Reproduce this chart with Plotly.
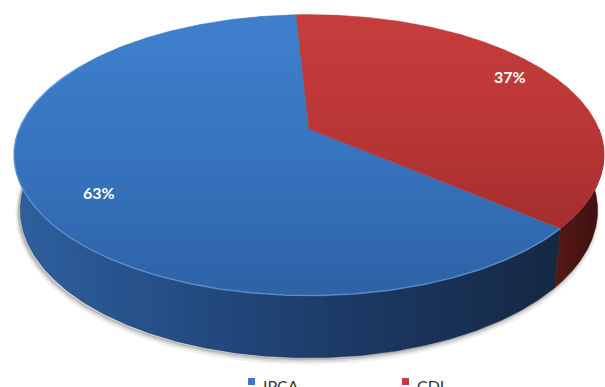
import numpy as np
import plotly.graph_objects as go

# ---------------- data ----------------
labels = ["IPCA", "CDI"]
values = [63, 37]
pct_labels = ["63%", "37%"]

# ---------------- style / geometry ----------------
W, H_PX = 605, 387
PHI = np.radians(27.9)          # elevation of the viewer
C, S = np.cos(PHI), np.sin(PHI)
DIST = 5.386 * C                # perspective distance (radius = 1)
THICK = 0.217                   # pie thickness (radius units)
CX, CY = 309.0, 129.0           # projected centre of the top face (px)
HALF_W = 295.0                  # projected half width (px)
START_DEG = 93.0                # angle where the first slice starts (ccw)

_t = np.linspace(0, 2 * np.pi, 4000)
F = HALF_W / np.max(np.cos(_t) / (DIST + C * np.sin(_t)))


def proj(theta, z):
    x, y = np.cos(theta), np.sin(theta)
    d = DIST + y * C - z * S
    sx = F * x / d
    sy = F * (y * S + z * C) / d
    return CX + sx, CY - sy


# colorscales: 0 = bottom of screen, 1 = top of screen
top_scales = [
    [[0, "#2D62A6"], [0.45, "#3672BC"], [1, "#3F80CE"]],
    [[0, "#A52E2E"], [0.4, "#B83535"], [1, "#C73D3D"]],
]
side_scales = [
    [[0, "#2E609F"], [0.3, "#244D84"], [0.65, "#1B3762"], [1, "#152843"]],
    [[0, "#561818"], [1, "#3E1010"]],
]
legend_cols = ["#3A76C2", "#C23A3A"]
label_pos = [(99, 192), (510, 76)]

total = float(sum(values))
bounds = START_DEG + 360.0 * np.concatenate([[0], np.cumsum(values)]) / total

fig = go.Figure()

# shadow under the visible rim
th_sh = np.radians(np.linspace(175, 365, 300))
sx_b, sy_b = proj(th_sh, -THICK)
for off, w, a in [(3.5, 7, 0.06), (2.5, 4, 0.10), (1.5, 2, 0.14)]:
    fig.add_trace(go.Scatter(x=sx_b - 1.5, y=sy_b + off, mode="lines",
                             line=dict(color=f"rgba(0,0,0,{a})", width=w),
                             hoverinfo="skip", showlegend=False))

# sides (only the front half is visible)
for i in range(len(values)):
    a0, a1 = bounds[i], bounds[i + 1]
    lo, hi = max(a0, 180.0), min(a1, 360.0)
    if hi <= lo:
        continue
    th = np.radians(np.linspace(lo, hi, 300))
    xt, yt = proj(th, 0.0)
    xb, yb = proj(th[::-1], -THICK)
    fig.add_trace(go.Scatter(
        x=np.concatenate([xt, xb, xt[:1]]), y=np.concatenate([yt, yb, yt[:1]]),
        mode="lines", fill="toself", line=dict(width=0.5, color=side_scales[i][-1][1]),
        fillgradient=dict(type="horizontal", colorscale=side_scales[i]),
        hoverinfo="skip", showlegend=False))

# top faces
for i in range(len(values)):
    a0, a1 = bounds[i], bounds[i + 1]
    th = np.radians(np.linspace(a0, a1, 400))
    xa, ya = proj(th, 0.0)
    fig.add_trace(go.Scatter(
        x=np.concatenate([[CX], xa, [CX]]), y=np.concatenate([[CY], ya, [CY]]),
        mode="lines", fill="toself", line=dict(width=0.5, color=top_scales[i][1][1]),
        fillgradient=dict(type="vertical", colorscale=top_scales[i]),
        hoverinfo="skip", showlegend=False))

# rim highlight on the front edge
th_r = np.radians(np.linspace(max(bounds[0], 150), min(bounds[1], 360), 300))
xr, yr = proj(th_r, 0.0)
fig.add_trace(go.Scatter(x=xr, y=yr, mode="lines",
                         line=dict(color="rgba(120,170,230,0.55)", width=1.5),
                         hoverinfo="skip", showlegend=False))

annotations = []
for (px, py), txt in zip(label_pos, pct_labels):
    annotations.append(dict(x=px, y=py, text=txt, showarrow=False, xref="x", yref="y",
                            font=dict(family="Lato", size=16, color="white", weight="bold")))

# legend (bottom, partially cropped like the reference)
leg_x = [248, 402]
shapes = []
for lx, name, col in zip(leg_x, labels, legend_cols):
    shapes.append(dict(type="rect", x0=lx, x1=lx + 7, y0=378, y1=385, xref="x", yref="y",
                       fillcolor=col, line=dict(width=0)))
    annotations.append(dict(x=lx + 13, y=385, text=name, showarrow=False, xref="x", yref="y",
                            xanchor="left", yanchor="middle",
                            font=dict(family="Lato", size=16, color="#333333")))

fig.update_layout(
    width=W, height=H_PX, margin=dict(l=0, r=0, t=0, b=0),
    paper_bgcolor="white", plot_bgcolor="white", showlegend=False,
    xaxis=dict(range=[0, W], visible=False, fixedrange=True),
    yaxis=dict(range=[H_PX, 0], visible=False, fixedrange=True),
    annotations=annotations, shapes=shapes,
)

fig.write_html("out.html")
